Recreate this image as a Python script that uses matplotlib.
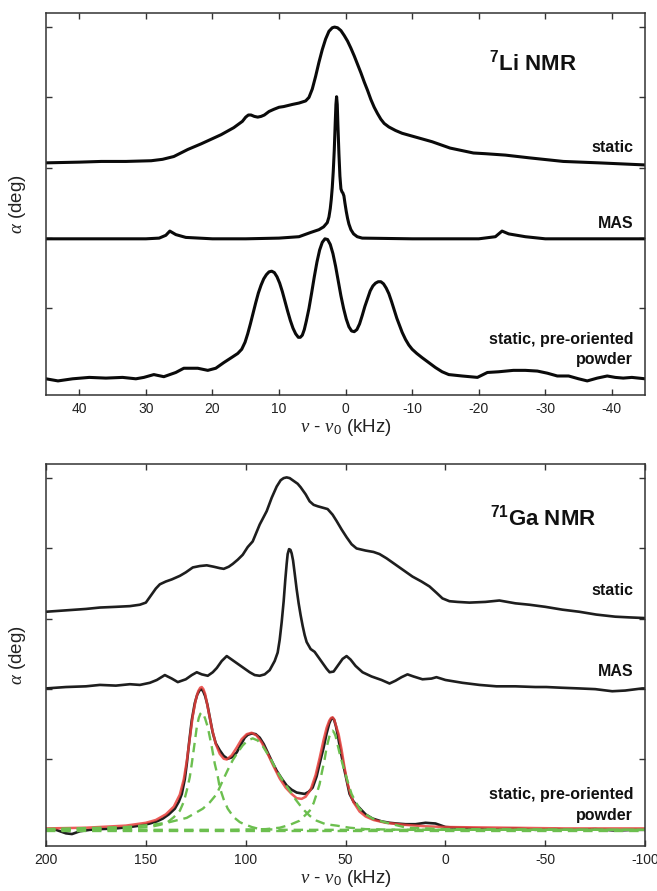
import matplotlib
matplotlib.use("Agg")
import matplotlib.pyplot as plt

plt.rcParams['font.family'] = ['Liberation Sans', 'DejaVu Sans']
plt.rcParams['mathtext.fontset'] = 'custom'
plt.rcParams['mathtext.rm'] = 'Liberation Sans'
plt.rcParams['mathtext.it'] = 'Liberation Serif:italic'
plt.rcParams['mathtext.bf'] = 'Liberation Sans:bold'

# ---------------- 7Li NMR (top panel) ----------------
li_static_khz = [45, 40, 36.7, 33, 29.2, 27.5, 25.8, 23.7, 21.7, 18.7, 16.8, 15.5, 15.0, 14.6, 14.2, 13.7,
                 13.2, 12.7, 12.2, 11.5, 10.8, 10, 9.3, 8, 7, 6, 5.5, 5, 4.5, 4.0, 3.5, 3.0, 2.5, 2.0,
                 1.65, 1.2, 0.7, 0.2, -0.3, -0.8, -1.3, -1.8, -2.3, -2.8, -3.3, -3.8, -4.3, -4.8, -5.3,
                 -5.8, -6.5, -7.5, -8.5, -10, -13, -15.7, -19.2, -21, -24, -27.7, -32.7, -38, -45]
li_static_val = [3.07, 3.08, 3.09, 3.09, 3.10, 3.12, 3.16, 3.26, 3.34, 3.47, 3.57, 3.66, 3.72, 3.75, 3.75,
                 3.73, 3.72, 3.73, 3.75, 3.80, 3.83, 3.86, 3.87, 3.90, 3.92, 3.95, 4.00, 4.12, 4.30, 4.50,
                 4.68, 4.83, 4.94, 4.99, 5.00, 4.99, 4.95, 4.88, 4.80, 4.70, 4.59, 4.47, 4.35, 4.22, 4.10,
                 3.97, 3.86, 3.77, 3.69, 3.63, 3.58, 3.53, 3.49, 3.45, 3.37, 3.28, 3.21, 3.20, 3.18, 3.14,
                 3.09, 3.07, 3.04]

li_mas_khz = [45, 35, 30, 28, 27, 26.4, 25.5, 24, 20, 15, 10, 7, 5.25, 4, 3.3, 2.75, 2.5, 2.3, 2.15, 2.0,
              1.85, 1.7, 1.55, 1.45, 1.35, 1.25, 1.15, 1.0, 0.85, 0.7, 0.55, 0.4, 0.25, 0.1, -0.1, -0.3,
              -0.5, -0.8, -1.2, -1.75, -2.5, -10, -20, -22.5, -23.5, -24.5, -27, -30, -45]
li_mas_val = [1.99, 1.99, 1.99, 2.00, 2.04, 2.10, 2.05, 2.01, 1.99, 1.99, 2.00, 2.02, 2.08, 2.12, 2.16,
              2.22, 2.30, 2.42, 2.55, 2.72, 2.95, 3.25, 3.65, 3.90, 4.01, 3.90, 3.60, 3.20, 2.88, 2.70,
              2.66, 2.64, 2.60, 2.50, 2.38, 2.28, 2.20, 2.12, 2.06, 2.02, 2.00, 1.99, 1.99, 2.02, 2.10,
              2.06, 2.02, 1.99, 1.99]

li_orient_khz = [45, 43.2, 41, 38.5, 36, 33.5, 31.5, 30.3, 28.8, 27.3, 25.5, 24.3, 22.2, 20.7, 19.5,
                 18.3, 17, 16.2, 15.6, 15.1, 14.7, 14.3, 13.9, 13.5, 13.1, 12.7, 12.3, 11.9, 11.5, 11.1,
                 10.7, 10.3, 9.9, 9.5, 9.1, 8.7, 8.3, 7.9, 7.5, 7.1, 6.8, 6.5, 6.2, 5.9, 5.5, 5.1, 4.7,
                 4.3, 3.9, 3.5, 3.1, 2.7, 2.3, 1.9, 1.5, 1.1, 0.7, 0.3, -0.1, -0.5, -0.9, -1.3, -1.7,
                 -2.1, -2.5, -2.9, -3.3, -3.7, -4.1, -4.5, -4.9, -5.3, -5.7, -6.1, -6.5, -6.9, -7.3,
                 -7.7, -8.1, -8.5, -9.0, -9.5, -10, -10.7, -11.5, -12.5, -13.5, -14.5, -15.5, -17.5,
                 -19.8, -21.3, -23, -25.2, -27, -28.8, -30.3, -31.8, -33.5, -35, -36.3, -37.8, -39.3,
                 -40.5, -41.7, -43, -45]
li_orient_val = [0.00, -0.03, 0.00, 0.02, 0.01, 0.02, 0.00, 0.02, 0.06, 0.03, 0.09, 0.15, 0.15, 0.12, 0.15,
                 0.23, 0.31, 0.36, 0.42, 0.52, 0.64, 0.78, 0.93, 1.08, 1.22, 1.33, 1.42, 1.48, 1.52, 1.53,
                 1.51, 1.45, 1.36, 1.24, 1.10, 0.96, 0.83, 0.72, 0.64, 0.59, 0.59, 0.62, 0.70, 0.82, 1.00,
                 1.22, 1.45, 1.66, 1.83, 1.94, 1.99, 1.98, 1.91, 1.78, 1.60, 1.39, 1.18, 1.00, 0.85, 0.74,
                 0.68, 0.67, 0.70, 0.78, 0.90, 1.03, 1.14, 1.25, 1.32, 1.36, 1.38, 1.38, 1.35, 1.29, 1.21,
                 1.10, 0.98, 0.86, 0.76, 0.66, 0.56, 0.48, 0.42, 0.36, 0.30, 0.23, 0.16, 0.10, 0.06, 0.04,
                 0.02, 0.09, 0.10, 0.12, 0.12, 0.11, 0.08, 0.04, 0.04, 0.00, -0.03, 0.01, 0.04, 0.02, 0.01,
                 0.02, 0.00]

li_xticks = [40, 30, 20, 10, 0, -10, -20, -30, -40]

# ---------------- 71Ga NMR (bottom panel) ----------------
ga_static_khz = [200, 190, 180, 173, 165, 158, 153, 150, 147.5, 145, 143, 140, 137, 133, 130, 126.5, 123,
                 119.5, 116, 113, 111, 108.5, 106.5, 104, 101.5, 99, 96.5, 93, 89.5, 87, 84.5, 82.5, 81,
                 79.5, 78, 76, 74, 72.5, 70, 68, 66, 64, 61.5, 59, 56.5, 54.5, 52, 49.5, 47, 44.5, 40,
                 36, 33, 29.5, 26.5, 21.5, 16.5, 12, 8, 4.5, 1.5, -2, -6, -12, -20, -27, -35, -42, -50,
                 -58.5, -67, -75.5, -85, -92, -100]
ga_static_val = [3.10, 3.12, 3.14, 3.16, 3.17, 3.18, 3.20, 3.23, 3.33, 3.43, 3.49, 3.53, 3.56, 3.61, 3.66,
                 3.73, 3.75, 3.76, 3.74, 3.72, 3.71, 3.74, 3.78, 3.84, 3.91, 4.02, 4.10, 4.34, 4.53, 4.72,
                 4.88, 4.97, 5.00, 5.01, 5.00, 4.96, 4.92, 4.87, 4.77, 4.67, 4.62, 4.60, 4.58, 4.56, 4.48,
                 4.39, 4.27, 4.16, 4.06, 4.00, 3.97, 3.95, 3.92, 3.86, 3.80, 3.70, 3.60, 3.53, 3.46, 3.37,
                 3.29, 3.25, 3.24, 3.23, 3.24, 3.26, 3.22, 3.20, 3.17, 3.13, 3.10, 3.06, 3.03, 3.02, 3.01]

ga_mas_khz = [200, 190, 180, 173, 165, 158, 153, 148, 144.5, 140.5, 137, 134, 130, 127, 124.5, 122, 119,
              116.5, 114.5, 112, 109.5, 107, 104.5, 101, 98, 95.5, 93, 90.5, 88, 85.5, 84, 83, 82, 81,
              80.2, 79.5, 79, 78.3, 77.6, 77, 76.3, 75.5, 74.5, 73.5, 72.5, 71.5, 70.5, 69.5, 67.5,
              65.5, 63.5, 61.5, 59.5, 58, 56, 54, 51.5, 49.5, 47.5, 45, 41.5, 37, 32, 28, 25, 22, 19,
              16, 11.5, 7, 4.5, 0, -8.5, -17, -25.5, -35, -45, -50.5, -58, -67, -75, -83.5, -90, -98.5,
              -100]
ga_mas_val = [2.01, 2.03, 2.04, 2.06, 2.05, 2.07, 2.06, 2.09, 2.13, 2.20, 2.15, 2.10, 2.14, 2.20, 2.24,
              2.21, 2.19, 2.24, 2.30, 2.40, 2.47, 2.42, 2.37, 2.30, 2.24, 2.20, 2.19, 2.21, 2.27, 2.40,
              2.52, 2.70, 2.95, 3.25, 3.55, 3.78, 3.92, 3.99, 3.98, 3.93, 3.83, 3.65, 3.42, 3.22, 3.05,
              2.90, 2.77, 2.67, 2.57, 2.53, 2.45, 2.37, 2.29, 2.24, 2.25, 2.33, 2.43, 2.47, 2.42, 2.33,
              2.24, 2.18, 2.13, 2.08, 2.12, 2.17, 2.21, 2.18, 2.14, 2.15, 2.17, 2.13, 2.09, 2.06, 2.04,
              2.04, 2.03, 2.03, 2.02, 2.01, 2.00, 1.97, 1.98, 2.01, 2.01]

ga_orient_khz = [200, 195, 190, 187, 183, 178, 173, 165, 158, 153, 148, 144.5, 141.5, 138.5, 135.5, 133.5,
                 132, 130.5, 129.5, 128.3, 127, 125.5, 124.3, 123.2, 122.2, 121.3, 120.3, 119.2, 118,
                 116.5, 115, 113, 111, 109, 107, 104.5, 102.5, 100.5, 99, 97, 95, 93, 91, 89, 87, 84.5,
                 82, 79.5, 77, 74.5, 72.5, 70.5, 68.5, 66.5, 64.5, 63, 61, 59.5, 58.2, 57.3, 56.5, 55.7,
                 54.8, 54, 52.5, 50.5, 48, 46, 43, 40, 36.5, 32, 28, 24.5, 20, 15, 10, 5, 0, -5, -15,
                 -25, -35, -45, -55, -65, -75, -85, -95, -100]
ga_orient_val = [0.00, 0.00, -0.05, -0.06, -0.02, 0.00, 0.01, 0.02, 0.04, 0.06, 0.09, 0.12, 0.16, 0.22,
                 0.30, 0.40, 0.51, 0.72, 0.94, 1.25, 1.56, 1.80, 1.92, 1.98, 2.00, 1.97, 1.90, 1.78, 1.60,
                 1.38, 1.23, 1.13, 1.05, 1.01, 1.03, 1.10, 1.21, 1.31, 1.35, 1.37, 1.36, 1.31, 1.22, 1.10,
                 0.98, 0.84, 0.73, 0.63, 0.57, 0.53, 0.52, 0.51, 0.54, 0.60, 0.76, 0.94, 1.17, 1.37, 1.51,
                 1.57, 1.59, 1.56, 1.47, 1.36, 1.12, 0.84, 0.51, 0.40, 0.31, 0.22, 0.16, 0.12, 0.10, 0.09,
                 0.08, 0.08, 0.10, 0.09, 0.04, 0.03, 0.02, 0.01, 0.02, 0.00, 0.01, 0.00, 0.01, -0.01, 0.00,
                 0.00]

# total fit (red)
ga_fit_khz = [200, 180, 160, 150, 145, 140, 136, 133, 131, 129.5, 128, 126.5, 125, 123.8, 122.8, 122,
              121.2, 120.3, 119, 117, 115, 113, 111, 109.5, 107, 104.5, 102, 99.5, 97, 94.5, 92, 89, 86,
              83, 80, 77, 74.5, 72, 70, 67.5, 65, 63, 61, 59.5, 58.2, 57.3, 56.5, 55.7, 54.8, 53.5, 52,
              50.5, 49, 47.5, 46, 43, 40, 36, 30, 20, 10, 0, -30, -60, -100]
ga_fit_val = [0.02, 0.03, 0.06, 0.10, 0.14, 0.22, 0.33, 0.50, 0.72, 0.98, 1.30, 1.62, 1.85, 1.97, 2.02,
              2.03, 2.00, 1.93, 1.74, 1.45, 1.22, 1.08, 1.01, 1.00, 1.06, 1.17, 1.29, 1.36, 1.38, 1.34,
              1.24, 1.08, 0.90, 0.73, 0.60, 0.51, 0.45, 0.44, 0.47, 0.57, 0.78, 1.02, 1.28, 1.45, 1.55,
              1.59, 1.60, 1.57, 1.48, 1.36, 1.14, 0.88, 0.66, 0.50, 0.39, 0.26, 0.19, 0.14, 0.10, 0.07,
              0.05, 0.04, 0.03, 0.02, 0.02]

# fit components (green dashed)
ga_compA_khz = [200, 160, 148, 143, 139.5, 136, 133, 131, 129.5, 128, 127, 125.5, 124.5, 123.5, 122.7,
                122, 121.3, 120.3, 119, 117, 115.5, 114, 113, 111, 109, 106, 103, 101.5, 97, 93, 80, -100]
ga_compA_val = [0.01, 0.02, 0.04, 0.07, 0.10, 0.18, 0.27, 0.40, 0.56, 0.75, 0.94, 1.25, 1.46, 1.59, 1.65,
                1.67, 1.65, 1.58, 1.46, 1.18, 0.94, 0.76, 0.60, 0.43, 0.30, 0.18, 0.11, 0.09, 0.04, 0.01,
                0.00, 0.00]

ga_compB_khz = [200, 160, 148, 139.5, 129.5, 121.5, 118, 114.5, 111.5, 109, 106.5, 104, 101.5, 99, 96.5,
                94, 91.5, 89.5, 87, 84.5, 81, 78, 75, 71.5, 68, 64.5, 60, 54.5, 48, 40, 20, -100]
ga_compB_val = [0.01, 0.04, 0.07, 0.10, 0.17, 0.30, 0.39, 0.51, 0.70, 0.85, 0.99, 1.10, 1.20, 1.27, 1.30,
                1.27, 1.19, 1.10, 0.98, 0.84, 0.68, 0.56, 0.43, 0.30, 0.20, 0.13, 0.08, 0.06, 0.03, 0.01,
                0.00, 0.00]

ga_compC_khz = [200, 110, 90, 83, 78, 73, 70.5, 68, 66, 64.5, 63, 62, 60.5, 59.5, 58.2, 57.3, 56.5, 55.7,
                55, 53, 51, 49.5, 48, 47, 45, 43, 40, 36.5, 32, 28, 19.5, 0, -100]
ga_compC_val = [0.00, 0.00, 0.01, 0.03, 0.07, 0.13, 0.20, 0.27, 0.38, 0.51, 0.65, 0.80, 1.00, 1.17, 1.32,
                1.39, 1.41, 1.38, 1.33, 1.09, 0.88, 0.74, 0.60, 0.51, 0.40, 0.30, 0.22, 0.16, 0.12, 0.09,
                0.03, 0.01, 0.00]

ga_base_khz = [200, -100]
ga_base_val = [-0.02, -0.02]

ga_xticks = [200, 150, 100, 50, 0, -50, -100]

# ---------------- figure ----------------
fig = plt.figure(figsize=(6.57, 8.91), dpi=100)
ax1 = fig.add_axes([0.070, 0.5567, 0.912, 0.4287])
ax2 = fig.add_axes([0.070, 0.0505, 0.912, 0.4287])

black = '#0a0a0a'
for xs, ys in [(li_static_khz, li_static_val), (li_mas_khz, li_mas_val), (li_orient_khz, li_orient_val)]:
    ax1.plot(xs, ys, color=black, lw=2.2, solid_joinstyle='round', solid_capstyle='round')

gray = '#1e1e1e'
for xs, ys in [(ga_static_khz, ga_static_val), (ga_mas_khz, ga_mas_val), (ga_orient_khz, ga_orient_val)]:
    ax2.plot(xs, ys, color=gray, lw=1.9, solid_joinstyle='round')
ax2.plot(ga_fit_khz, ga_fit_val, color='#e8403c', lw=1.8, alpha=0.85, solid_joinstyle='round')
green = '#6cbf4f'
for xs, ys in [(ga_compA_khz, ga_compA_val), (ga_compB_khz, ga_compB_val),
               (ga_compC_khz, ga_compC_val), (ga_base_khz, ga_base_val)]:
    ax2.plot(xs, ys, color=green, lw=1.7, ls=(0, (4, 2.5)))

for ax, xlim, xt in [(ax1, (45, -45), li_xticks), (ax2, (200, -100), ga_xticks)]:
    ax.set_xlim(*xlim)
    ax.set_ylim(-0.23, 5.2)
    ax.set_xticks(xt)
    ax.set_xticklabels([str(v) for v in xt])
    ax.set_yticks([1, 2, 3, 4, 5])
    ax.set_yticklabels([])
    ax.tick_params(direction='in', top=True, right=True, length=4.5, width=1.0,
                   color='#333333', labelsize=10, pad=5, labelcolor='#222222')
    for s in ax.spines.values():
        s.set_linewidth(1.1)
        s.set_color('#333333')
    ax.set_xlabel(r'$\nu$ - $\nu_0$ (kHz)', fontsize=13.5, labelpad=1, color='#222222')
    ax.set_ylabel(r'$\alpha$ (deg)', fontsize=13.5, labelpad=8, color='#222222')

lab = dict(fontsize=11.5, fontweight='bold', ha='right', va='center', color='#111111')
ax1.text(0.980, 0.649, 'static', transform=ax1.transAxes, **lab)
ax1.text(0.980, 0.448, 'MAS', transform=ax1.transAxes, **lab)
ax1.text(0.980, 0.144, 'static, pre-oriented', transform=ax1.transAxes, **lab)
ax1.text(0.980, 0.092, 'powder', transform=ax1.transAxes, **lab)
ax1.text(0.813, 0.869, r'$\mathbf{^{7}}$Li NMR', transform=ax1.transAxes, fontsize=16,
         fontweight='bold', ha='center', va='center', color='#111111')

ax2.text(0.980, 0.670, 'static', transform=ax2.transAxes, **lab)
ax2.text(0.980, 0.458, 'MAS', transform=ax2.transAxes, **lab)
ax2.text(0.980, 0.134, 'static, pre-oriented', transform=ax2.transAxes, **lab)
ax2.text(0.980, 0.081, 'powder', transform=ax2.transAxes, **lab)
ax2.text(0.830, 0.861, r'$\mathbf{^{71}}$Ga NMR', transform=ax2.transAxes, fontsize=16,
         fontweight='bold', ha='center', va='center', color='#111111')

fig.savefig('out.png', dpi=100)
